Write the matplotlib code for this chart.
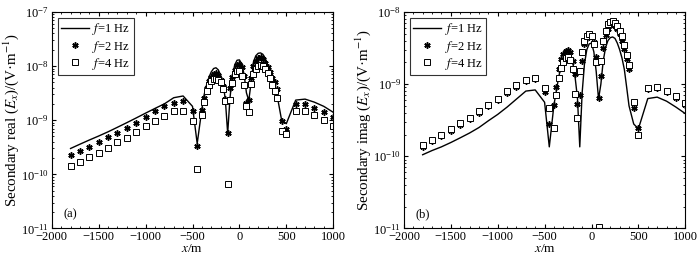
import numpy as np
import matplotlib
matplotlib.use("Agg")
import matplotlib.pyplot as plt
from matplotlib.ticker import LogLocator, MultipleLocator, NullFormatter

plt.rcParams['font.family'] = ['Liberation Serif', 'DejaVu Serif']
plt.rcParams['mathtext.fontset'] = 'stix'
plt.rcParams['font.size'] = 9

# x positions of the survey points (m)
x = [-1800, -1700, -1600, -1500, -1400, -1300, -1200, -1100, -1000, -900, -800, -700, -600,
     -500, -450, -400,
     -375, -350, -325, -300, -275, -250, -225, -200, -175, -150, -125, -100, -75, -50, -25,
     0, 25, 50, 75, 100, 125, 150, 175, 200, 225, 250, 275, 300, 325, 350, 375,
     400, 450, 500, 600, 700, 800, 900, 1000]

# (a) secondary real Ex
real_f1 = [3.0e-10, 3.6e-10, 4.3e-10, 5.1e-10, 6.1e-10, 7.4e-10, 9.0e-10, 1.1e-9, 1.35e-9, 1.65e-9, 2.0e-9, 2.6e-9, 2.8e-9,
           1.8e-9, 3.7e-10, 1.6e-9,
           3.0e-9, 4.5e-9, 6.2e-9, 7.8e-9, 9.0e-9, 9.3e-9, 8.5e-9, 6.8e-9, 5.0e-9, 2.4e-9, 5.7e-10, 2.6e-9, 6.5e-9, 1.05e-8, 1.28e-8,
           1.3e-8, 1.1e-8, 7.0e-9, 3.2e-9, 2.3e-9, 5.0e-9, 1.2e-8, 1.55e-8, 1.72e-8, 1.75e-8, 1.65e-8, 1.4e-8, 1.05e-8, 7.5e-9, 5.5e-9, 4.0e-9,
           3.0e-9, 1.0e-9, 8.6e-10, 2.35e-9, 2.45e-9, 2.15e-9, 1.8e-9, 1.4e-9]
real_f2 = [2.3e-10, 2.7e-10, 3.2e-10, 3.9e-10, 4.8e-10, 5.9e-10, 7.2e-10, 9.0e-10, 1.15e-9, 1.45e-9, 1.8e-9, 2.1e-9, 2.25e-9,
           1.5e-9, 3.4e-10, 1.55e-9,
           2.6e-9, 4.0e-9, 5.2e-9, 6.3e-9, 7.0e-9, 7.3e-9, 6.8e-9, 5.6e-9, 4.3e-9, 2.5e-9, 5.8e-10, 4.0e-9, 6.2e-9, 8.5e-9, 1.05e-8,
           1.1e-8, 9.5e-9, 6.5e-9, 2.1e-9, 2.4e-9, 6.0e-9, 1.0e-8, 1.25e-8, 1.4e-8, 1.45e-8, 1.35e-8, 1.15e-8, 9.5e-9, 7.8e-9, 6.0e-9, 5.0e-9,
           3.7e-9, 9.7e-10, 7.0e-10, 1.96e-9, 2.0e-9, 1.7e-9, 1.4e-9, 1.13e-9]
real_f4 = [1.4e-10, 1.7e-10, 2.05e-10, 2.5e-10, 3.1e-10, 3.9e-10, 4.75e-10, 6.1e-10, 7.7e-10, 9.6e-10, 1.2e-9, 1.45e-9, 1.5e-9,
           9.5e-10, 1.25e-10, 1.27e-9,
           2.2e-9, 3.4e-9, 4.4e-9, 5.2e-9, 5.7e-9, 5.8e-9, 5.6e-9, 5.0e-9, 3.8e-9, 2.3e-9, 6.5e-11, 2.4e-9, 4.8e-9, 7.0e-9, 8.0e-9,
           8.0e-9, 6.5e-9, 4.5e-9, 1.8e-9, 1.43e-9, 4.6e-9, 7.0e-9, 9.0e-9, 1.02e-8, 1.05e-8, 1.0e-8, 9.0e-9, 7.5e-9, 6.0e-9, 4.5e-9, 3.4e-9,
           2.6e-9, 6.3e-10, 5.5e-10, 1.45e-9, 1.45e-9, 1.25e-9, 1.0e-9, 7.9e-10]

# (b) secondary imag Ex
imag_f1 = [1.05e-10, 1.2e-10, 1.35e-10, 1.55e-10, 1.8e-10, 2.1e-10, 2.5e-10, 3.1e-10, 3.8e-10, 4.8e-10, 6.2e-10, 8.0e-10, 8.3e-10,
           5.6e-10, 1.35e-10, 5.2e-10,
           8.0e-10, 1.25e-9, 1.75e-9, 2.15e-9, 2.6e-9, 2.8e-9, 2.5e-9, 2.0e-9, 1.25e-9, 6.5e-10, 1.35e-10, 7.5e-10, 1.9e-9, 3.0e-9, 3.6e-9,
           3.7e-9, 2.8e-9, 1.5e-9, 6.2e-10, 1.0e-9, 2.1e-9, 3.2e-9, 4.0e-9, 4.4e-9, 4.5e-9, 4.3e-9, 3.7e-9, 3.0e-9, 2.3e-9, 1.6e-9, 9.0e-10,
           5.0e-10, 2.8e-10, 2.4e-10, 6.3e-10, 6.6e-10, 5.8e-10, 4.8e-10, 3.9e-10]
imag_f2 = [1.35e-10, 1.63e-10, 1.9e-10, 2.27e-10, 2.7e-10, 3.25e-10, 4.0e-10, 4.9e-10, 6.0e-10, 7.5e-10, 9.2e-10, 1.1e-9, 1.17e-9,
           7.7e-10, 2.8e-10, 5.2e-10,
           9.0e-10, 1.6e-9, 2.2e-9, 2.6e-9, 2.9e-9, 3.0e-9, 2.8e-9, 2.1e-9, 1.4e-9, 5.3e-10, 7.1e-10, 2.1e-9, 3.6e-9, 4.3e-9, 4.8e-9,
           4.6e-9, 3.8e-9, 2.35e-9, 6.4e-10, 1.3e-9, 3.2e-9, 4.8e-9, 5.8e-9, 6.5e-9, 6.7e-9, 6.4e-9, 5.8e-9, 5.0e-9, 4.0e-9, 3.1e-9, 2.2e-9,
           1.6e-9, 4.6e-10, 2.5e-10, 8.5e-10, 8.7e-10, 7.7e-10, 6.5e-10, 5.2e-10]
imag_f4 = [1.42e-10, 1.7e-10, 2.0e-10, 2.38e-10, 2.85e-10, 3.4e-10, 4.2e-10, 5.1e-10, 6.3e-10, 7.9e-10, 9.6e-10, 1.15e-9, 1.22e-9,
           8.9e-10, 4.7e-10, 2.5e-10,
           7.0e-10, 1.2e-9, 1.65e-9, 2.0e-9, 2.3e-9, 2.4e-9, 2.15e-9, 1.6e-9, 7.2e-10, 3.4e-10, 1.5e-9, 2.8e-9, 3.9e-9, 4.6e-9, 5.0e-9,
           4.7e-9, 3.6e-9, 2.0e-9, 1.05e-11, 2.1e-9, 4.0e-9, 5.5e-9, 6.7e-9, 7.3e-9, 7.4e-9, 7.0e-9, 6.4e-9, 5.5e-9, 4.6e-9, 3.5e-9, 2.5e-9,
           1.85e-9, 5.7e-10, 2.0e-10, 8.7e-10, 9.0e-10, 8.0e-10, 6.8e-10, 5.5e-10]

labels = ['$f$=1 Hz', '$f$=2 Hz', '$f$=4 Hz']


def draw_panel(ax, y1, y2, y4, ylim, ylabel, tag):
    ax.semilogy(x, y1, '-', color='black', lw=1.0, label=labels[0])
    # asterisk marker (6 spokes), like the MATLAB '*'
    ax.semilogy(x, y2, marker=(6, 2, 0), color='black', ms=4.5, mew=1.1, ls='none', label=labels[1])
    ax.semilogy(x, y4, 's', mfc='white', mec='black', ms=4, mew=0.7, ls='none', label=labels[2])
    ax.set_xlim(-2000, 1000)
    ax.set_ylim(*ylim)
    ax.xaxis.set_major_locator(MultipleLocator(500))
    ax.xaxis.set_minor_locator(MultipleLocator(100))
    ax.yaxis.set_major_locator(LogLocator(base=10, numticks=10))
    ax.yaxis.set_minor_locator(LogLocator(base=10, subs=np.arange(2, 10), numticks=10))
    ax.yaxis.set_minor_formatter(NullFormatter())
    ax.tick_params(which='both', direction='in', top=True, right=True, labelsize=9, pad=2)
    ax.tick_params(which='major', length=3)
    ax.tick_params(which='minor', length=1.5)
    for s in ax.spines.values():
        s.set_linewidth(0.8)
    ax.set_xlabel('$x$/m', labelpad=0, fontsize=9.5)
    ax.set_ylabel(ylabel, labelpad=0, fontsize=10.8)
    ax.text(0.04, 0.05, tag, transform=ax.transAxes, fontsize=9)
    leg = ax.legend(loc='upper left', fontsize=9, frameon=True, fancybox=False,
                    edgecolor='black', handlelength=2.2, borderpad=0.25,
                    labelspacing=0.1, handletextpad=0.3, borderaxespad=0.5)
    leg.get_frame().set_linewidth(0.8)


fig = plt.figure(figsize=(7, 2.65), dpi=100)
ax1 = fig.add_axes([0.074, 0.138, 0.402, 0.817])
ax2 = fig.add_axes([0.577, 0.138, 0.402, 0.817])

draw_panel(ax1, real_f1, real_f2, real_f4, (1e-11, 1e-7),
           'Secondary real ($E_x$)/(V·m$^{-1}$)', '(a)')
draw_panel(ax2, imag_f1, imag_f2, imag_f4, (1e-11, 1e-8),
           'Secondary imag ($E_x$)/(V·m$^{-1}$)', '(b)')

fig.savefig('out.png', dpi=100)
